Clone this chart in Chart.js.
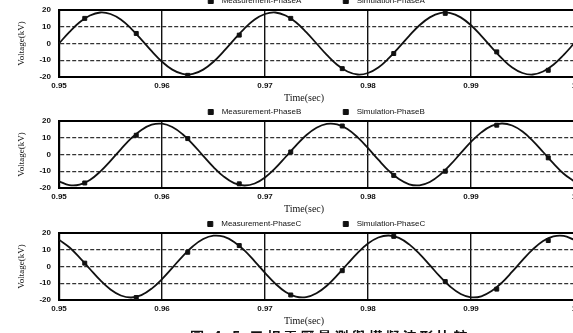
<!DOCTYPE html>
<html>
<head>
<meta charset="utf-8">
<script src="https://cdn.jsdelivr.net/npm/chart.js@4.4.0/dist/chart.umd.min.js"></script>
<style>
  html, body { margin: 0; padding: 0; width: 573px; height: 333px; overflow: hidden; background: #fff; }
  canvas { position: absolute; left: 0; }
  #caption {
    position: absolute; left: 190px; top: 326px; white-space: nowrap;
    font: bold 14px "Noto Sans CJK TC", sans-serif; letter-spacing: 3px; color: #111;
  }
</style>
</head>
<body>
<canvas id="panelA" width="600" height="114" style="top:-7px"></canvas>
<canvas id="panelB" width="600" height="114" style="top:104px"></canvas>
<canvas id="panelC" width="600" height="114" style="top:216px"></canvas>
<div id="caption">圖 4.5 三相電壓量測與模擬波形比較</div>
<script>
const simTime = [
  0.950, 0.951, 0.952, 0.953, 0.954, 0.955, 0.956, 0.957, 0.958, 0.959,
  0.960, 0.961, 0.962, 0.963, 0.964, 0.965, 0.966, 0.967, 0.968, 0.969,
  0.970, 0.971, 0.972, 0.973, 0.974, 0.975, 0.976, 0.977, 0.978, 0.979,
  0.980, 0.981, 0.982, 0.983, 0.984, 0.985, 0.986, 0.987, 0.988, 0.989,
  0.990, 0.991, 0.992, 0.993, 0.994, 0.995, 0.996, 0.997, 0.998, 0.999,
  1.000,
];
const simA = [
  0, 6.8, 12.7, 16.7, 18.5, 17.6, 14.3, 8.9, 2.3, -4.6,
  -10.9, -15.6, -18.2, -18.2, -15.6, -10.9, -4.6, 2.3, 8.9, 14.3,
  17.6, 18.5, 16.7, 12.7, 6.8, 0, -6.8, -12.7, -16.7, -18.5,
  -17.6, -14.3, -8.9, -2.3, 4.6, 10.9, 15.6, 18.2, 18.2, 15.6,
  10.9, 4.6, -2.3, -8.9, -14.3, -17.6, -18.5, -16.7, -12.7, -6.8,
  0,
];
const simB = [
  -16.0, -18.3, -18.0, -15.2, -10.2, -3.8, 3.1, 9.6, 14.7, 17.8,
  18.4, 16.4, 12.1, 6.1, -0.8, -7.5, -13.2, -17.1, -18.5, -17.3,
  -13.7, -8.2, -1.5, 5.3, 11.5, 16.0, 18.3, 18.0, 15.2, 10.2,
  3.8, -3.1, -9.6, -14.7, -17.8, -18.4, -16.4, -12.1, -6.1, 0.8,
  7.5, 13.2, 17.1, 18.5, 17.3, 13.7, 8.2, 1.5, -5.3, -11.5,
  -16.0,
];
const simC = [
  16.0, 11.5, 5.3, -1.5, -8.2, -13.7, -17.3, -18.5, -17.1, -13.2,
  -7.5, -0.8, 6.1, 12.1, 16.4, 18.4, 17.8, 14.7, 9.6, 3.1,
  -3.8, -10.2, -15.2, -18.0, -18.3, -16.0, -11.5, -5.3, 1.5, 8.2,
  13.7, 17.3, 18.5, 17.1, 13.2, 7.5, 0.8, -6.1, -12.1, -16.4,
  -18.4, -17.8, -14.7, -9.6, -3.1, 3.8, 10.2, 15.2, 18.0, 18.3,
  16.0,
];

// Measured samples (square markers)
const measTime = [0.9525, 0.9575, 0.9625, 0.9675, 0.9725, 0.9775, 0.9825, 0.9875, 0.9925, 0.9975];
const measA = [15, 6, -19, 5, 15, -15, -6, 18, -5, -16];
const measB = [-17, 11.5, 9.5, -17.5, 1.5, 17, -12.5, -10, 17.5, -2];
const measC = [2, -18.5, 8.5, 12.5, -17, -2.5, 18, -9, -13.5, 15.5];

// Axis ticks
const timeTicks = [0.95, 0.96, 0.97, 0.98, 0.99, 1.0];
const voltTicks = [-20, -10, 0, 10, 20];

const ink = '#111';
const tickFont = { family: 'Liberation Sans', size: 8, weight: 'bold' };

// solid top edge of the plot box (the 20 kV grid line is dashed otherwise)
const topEdge = {
  id: 'topEdge',
  beforeDatasetsDraw(chart) {
    const { ctx, chartArea } = chart;
    ctx.save();
    ctx.strokeStyle = '#000';
    ctx.lineWidth = 2;
    ctx.beginPath();
    ctx.moveTo(chartArea.left, chartArea.top);
    ctx.lineTo(chartArea.right, chartArea.top);
    ctx.stroke();
    ctx.restore();
  },
};

const drawPanel = (id, phase, simVals, measVals) => {
  const measData = measTime.map((t, i) => ({ x: t, y: measVals[i] }));
  const simData = simTime.map((t, i) => ({ x: t, y: simVals[i] }));
  // eslint-disable-next-line no-undef
  return new Chart(document.getElementById(id), {
    type: 'scatter',
    data: {
      datasets: [
        {
          label: `Measurement-Phase${phase}`,
          data: measData,
          showLine: false,
          pointStyle: 'rect',
          pointRadius: 2.8,
          backgroundColor: ink,
          borderColor: ink,
          borderWidth: 1,
          order: 0,
        },
        {
          label: `Simulation-Phase${phase}`,
          data: simData,
          showLine: true,
          pointRadius: 0,
          backgroundColor: ink,
          borderColor: ink,
          borderWidth: 1.8,
          tension: 0.4,
          order: 1,
        },
      ],
    },
    options: {
      responsive: false,
      animation: false,
      layout: { padding: { top: 2, left: 0, right: 26, bottom: 0 } },
      plugins: {
        tooltip: { enabled: false },
        legend: {
          fullSize: false,
          maxHeight: 15,
          labels: {
            font: { family: 'Liberation Sans', size: 8 },
            color: ink,
            boxWidth: 5,
            boxHeight: 5,
            padding: 2,
            generateLabels: (chart) => {
              // eslint-disable-next-line no-undef
              const items = Chart.defaults.plugins.legend.labels.generateLabels(chart);
              items[0].text = `  ${items[0].text}\u2003\u2003\u2003\u2003\u2003`; // Excel style wide gap
              items[1].text = `  ${items[1].text}`;
              items[1].lineWidth = 1;
              return items;
            },
          },
        },
      },
      scales: {
        x: {
          type: 'linear',
          min: 0.95,
          max: 1.0,
          afterBuildTicks: (scale) => { scale.ticks = timeTicks.map((v) => ({ value: v })); },
          afterFit: (scale) => { scale.height = 30; },
          grid: { color: ink, lineWidth: 1.4, drawTicks: false },
          border: { color: '#000', width: 2 },
          ticks: {
            padding: 4,
            font: tickFont,
            color: ink,
            maxRotation: 0,
            autoSkip: false,
            callback: (v) => (v === 1 ? '1' : v.toFixed(2)),
          },
          title: {
            display: true,
            text: 'Time(sec)\u2003\u2003\u2002',
            font: { family: 'Liberation Serif', size: 10 },
            color: ink,
            padding: { top: 0, bottom: 3 },
          },
        },
        y: {
          min: -20,
          max: 20,
          afterBuildTicks: (scale) => { scale.ticks = voltTicks.map((v) => ({ value: v })); },
          afterFit: (scale) => { scale.width = 59; },
          grid: { color: '#333', lineWidth: 1.2, drawTicks: false },
          border: { color: '#000', width: 2.2, dash: [4, 2] },
          ticks: { padding: 8, font: tickFont, color: ink },
          title: {
            display: true,
            text: 'Voltage(kV)',
            font: { family: 'Liberation Serif', size: 9 },
            color: ink,
            padding: { top: 16, bottom: 0 },
          },
        },
      },
    },
    plugins: [topEdge],
  });
};

drawPanel('panelA', 'A', simA, measA);
drawPanel('panelB', 'B', simB, measB);
drawPanel('panelC', 'C', simC, measC);
</script>
</body>
</html>
